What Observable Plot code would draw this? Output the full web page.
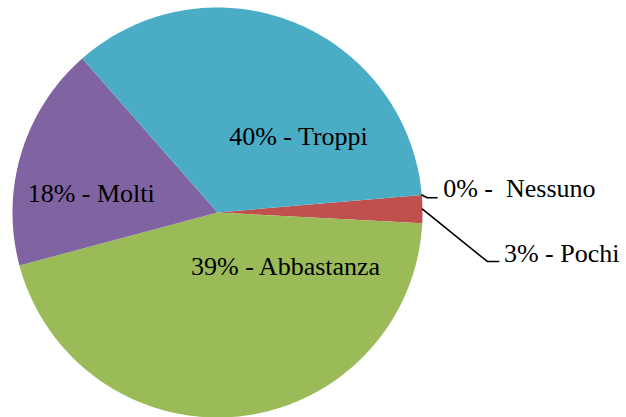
<!DOCTYPE html>
<html>
<head>
<meta charset="utf-8">
<script src="https://cdn.jsdelivr.net/npm/d3@7"></script>
<script src="https://cdn.jsdelivr.net/npm/@observablehq/plot@0.6"></script>
<style>
  html, body { margin: 0; padding: 0; background: #fff; }
  svg.pie { display: block; background: #fff; }
  svg.pie text { font-family: "Liberation Serif", "Times New Roman", Tinos, serif; white-space: pre; }
</style>
</head>
<body>
<div id="chart"></div>
<script>
// ---- data (Excel series order) ----
const categories = ["Nessuno", "Pochi", "Abbastanza", "Molti", "Troppi"];
// slice sizes (percent of the full circle)
const values = [0, 2.2, 45.0, 17.7, 35.1];
// label texts as printed on the chart
const labelTexts = ["0% -  Nessuno", "3% - Pochi", "39% - Abbastanza", "18% - Molti", "40% - Troppi"];
const colors = ["#4F81BD", "#C0504D", "#9BBB59", "#8064A2", "#4BACC6"];

// ---- layout (unit-circle coordinates) ----
const firstSliceAngle = 85.1; // degrees, clockwise from 12 o'clock
const labelPos = [
  {lx: 1.101, ly: 0.115, anchor: "start", leader: [[1.024, 0.072], [1.071, 0.072]]},
  {lx: 1.397, ly: -0.202, anchor: "start", leader: [[1.316, -0.239], [1.372, -0.239]]},
  {lx: 0.332, ly: -0.263, anchor: "middle"},
  {lx: -0.616, ly: 0.091, anchor: "middle"},
  {lx: 0.395, ly: 0.371, anchor: "middle"}
];

// ---- build slices ----
const total = d3.sum(values);
const rad = Math.PI / 180;
const slices = [];
const pts = [];
let a = firstSliceAngle;
categories.forEach((c, i) => {
  const span = values[i] / total * 360;
  const a0 = a, a1 = a + span;
  slices.push({category: c, mid: (a0 + a1) / 2, label: labelTexts[i], ...labelPos[i]});
  if (span > 0) {
    pts.push({category: c, color: colors[i], x: 0, y: 0});
    const n = Math.max(2, Math.ceil(span));
    for (let k = 0; k <= n; ++k) {
      const t = (a0 + span * k / n) * rad;
      pts.push({category: c, color: colors[i], x: Math.sin(t), y: Math.cos(t)});
    }
  }
  a = a1;
});

// leader lines from the slice's outer edge to the label
const leaders = [];
slices.forEach(s => {
  if (!s.leader) return;
  const t = s.mid * rad;
  leaders.push({category: s.category, x: Math.sin(t), y: Math.cos(t)});
  s.leader.forEach(([x, y]) => leaders.push({category: s.category, x, y}));
});

const inner = slices.filter(s => s.anchor === "middle");
const outer = slices.filter(s => s.anchor === "start");
const serifStack = "Liberation Serif, Times New Roman, Tinos, serif";

const chart = Plot.plot({
  className: "pie",
  width: 626,
  height: 417,
  marginLeft: 12,
  marginRight: 204,
  marginTop: 7,
  marginBottom: 0,
  x: {domain: [-1, 1], axis: null},
  y: {domain: [-1, 1], axis: null},
  color: {type: "identity"},
  marks: [
    Plot.line(pts, {x: "x", y: "y", z: "category", fill: "color", stroke: "none", curve: "linear-closed"}),
    Plot.line(leaders, {x: "x", y: "y", z: "category", stroke: "black", strokeWidth: 1.6, curve: "linear"}),
    Plot.text(inner, {x: "lx", y: "ly", text: "label", textAnchor: "middle", fontFamily: serifStack, fontSize: 26, fill: "black"}),
    Plot.text(outer, {x: "lx", y: "ly", text: "label", textAnchor: "start", fontFamily: serifStack, fontSize: 26, fill: "black"})
  ]
});
// serif labels, whitespace preserved
chart.setAttribute("font-family", serifStack);
chart.setAttributeNS("http://www.w3.org/XML/1998/namespace", "xml:space", "preserve");
chart.querySelectorAll("text").forEach(t => {
  t.setAttribute("font-family", serifStack);
  t.setAttribute("style", "font-family: 'Liberation Serif', 'Times New Roman', serif; white-space: pre;");
});
document.getElementById("chart").appendChild(chart);
</script>
</body>
</html>
